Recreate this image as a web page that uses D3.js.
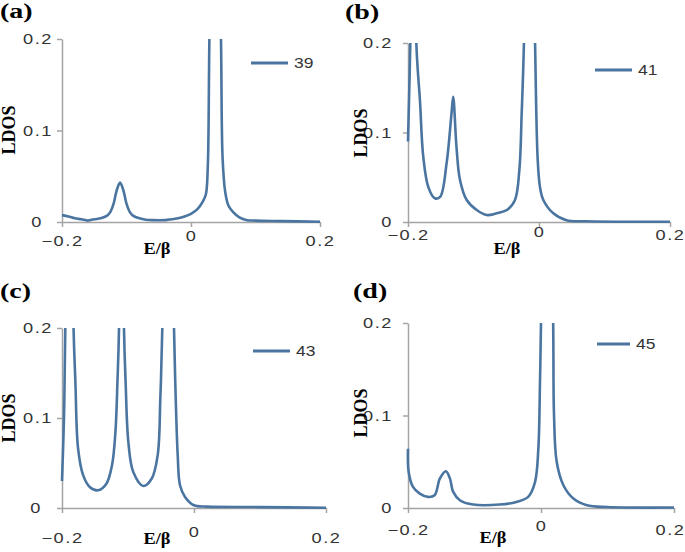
<!DOCTYPE html>
<html>
<head>
<meta charset="utf-8">
<script src="https://cdn.jsdelivr.net/npm/d3@7"></script>
<style>
  body { margin: 0; background: #fff; }
</style>
</head>
<body>
<div id="chart"></div>
<script>
// LDOS curves (values above 0.2 are clipped at the axis top)
const energyA = [-0.2, -0.19, -0.18, -0.17, -0.16, -0.15, -0.14, -0.13, -0.125, -0.12, -0.115, -0.11, -0.105, -0.1, -0.095, -0.09, -0.08, -0.07, -0.06, -0.04, -0.03, -0.02, -0.01, 0, 0.01, 0.018, 0.023, 0.026, 0.0285, 0.037, 0.0465, 0.049, 0.053, 0.058, 0.065, 0.075, 0.087, 0.1, 0.14, 0.2];
const ldosA   = [0.0075, 0.006, 0.004, 0.003, 0.0015, 0.003, 0.004, 0.007, 0.011, 0.02, 0.035, 0.043, 0.035, 0.02, 0.011, 0.007, 0.004, 0.0025, 0.002, 0.002, 0.003, 0.004, 0.006, 0.009, 0.014, 0.022, 0.03, 0.06, 0.2, 0.6, 0.2, 0.07, 0.033, 0.018, 0.011, 0.005, 0.002, 0.0015, 0.001, 0.0003];

const energyB = [-0.2, -0.1965, -0.1915, -0.1873, -0.1817, -0.1767, -0.169, -0.159, -0.151, -0.141, -0.1335, -0.131, -0.126, -0.1206, -0.1104, -0.0951, -0.0798, -0.0646, -0.049, -0.0367, -0.03, -0.0264, -0.023, -0.0145, -0.006, -0.002, 0.0015, 0.0066, 0.0219, 0.042, 0.07, 0.2];
const ldosB   = [0.09, 0.2, 0.5, 0.2, 0.135, 0.073, 0.039, 0.0265, 0.028, 0.066, 0.122, 0.14, 0.084, 0.047, 0.0246, 0.0134, 0.0078, 0.0097, 0.0134, 0.0246, 0.058, 0.122, 0.2, 0.6, 0.2, 0.07, 0.039, 0.0246, 0.0097, 0.002, 0.0008, 0.0003];

const energyC = [-0.2, -0.197, -0.195, -0.189, -0.1825, -0.1797, -0.1757, -0.168, -0.158, -0.1454, -0.1327, -0.1242, -0.119, -0.116, -0.1136, -0.11, -0.1061, -0.1036, -0.0995, -0.092, -0.0768, -0.064, -0.055, -0.051, -0.048, -0.039, -0.0303, -0.0277, -0.0247, -0.0212, -0.0136, 0, 0.02, 0.1, 0.2];
const ldosC   = [0.03, 0.1, 0.2, 0.6, 0.2, 0.14, 0.0666, 0.0365, 0.0234, 0.0197, 0.027, 0.0476, 0.085, 0.14, 0.2, 0.6, 0.2, 0.14, 0.0736, 0.04, 0.0245, 0.0328, 0.0588, 0.122, 0.2, 0.6, 0.2, 0.122, 0.059, 0.0253, 0.0123, 0.003, 0.0015, 0.001, 0.0002];

const energyD = [-0.2, -0.199, -0.1925, -0.1823, -0.17, -0.16, -0.152, -0.143, -0.137, -0.132, -0.122, -0.102, -0.062, -0.037, -0.0193, -0.009, -0.004, -0.0015, 0, 0.009, 0.0183, 0.0196, 0.0236, 0.0337, 0.0487, 0.069, 0.1, 0.2];
const ldosD   = [0.064, 0.039, 0.0228, 0.0156, 0.012, 0.0138, 0.032, 0.0398, 0.032, 0.0174, 0.0084, 0.0037, 0.0037, 0.0065, 0.012, 0.028, 0.064, 0.137, 0.2, 0.6, 0.2, 0.1, 0.05, 0.0246, 0.0102, 0.003, 0.001, 0.0005];

const seriesNames = ['39', '41', '43', '45'];
const panelLetters = ['(a)', '(b)', '(c)', '(d)'];
const xTicks = [-0.2, 0, 0.2];
const yTicks = [0, 0.1, 0.2];

const lineColor = '#4a75a1';
const axisColor = '#a4a4a4';
const textColor = '#333';
const sx = 1.3; // reference text is stretched horizontally

const w = 685, h = 552;

// plot boxes and label spots for each panel
const layout = [
  { left: 62,  right: 320, bottom: 222, top: 39,  yGap: 9,  zeroGap: 19, xDy: 19, zeroDy: 14, letter: [0, 18],   ldos: [9, 130],   eb: [157, 248], legend: [251, 288, 63] },
  { left: 408, right: 670, bottom: 222, top: 43,  yGap: 15, zeroGap: 15, xDy: 13, zeroDy: 10, letter: [345, 19], ldos: [361, 133], eb: [507, 248], legend: [595, 632, 70] },
  { left: 62,  right: 326, bottom: 508, top: 328, yGap: 9,  zeroGap: 20, xDy: 30, zeroDy: 24, letter: [0, 298],  ldos: [9, 418],   eb: [157, 538], legend: [253, 290, 351] },
  { left: 408, right: 674, bottom: 508, top: 323, yGap: 15, zeroGap: 15, xDy: 22, zeroDy: 18, letter: [353, 298], ldos: [361, 413], eb: [493, 537], legend: [597, 630, 344] }
];

const curves = [
  d3.zip(energyA, ldosA),
  d3.zip(energyB, ldosB),
  d3.zip(energyC, ldosC),
  d3.zip(energyD, ldosD)
];

const svg = d3.select('#chart')
  .append('svg')
  .attr('width', w)
  .attr('height', h);

function styleTickText(sel) {
  sel.attr('fill', textColor)
    .attr('font-family', 'Liberation Sans, Arial, sans-serif')
    .attr('font-size', 14)
    .attr('letter-spacing', 1.2);
}

layout.forEach(function (p, i) {
  const x = d3.scaleLinear().domain([-0.2, 0.2]).range([p.left, p.right]);
  const y = d3.scaleLinear().domain([0, 0.2]).range([p.bottom, p.top]);
  const fmt = d => d === 0 ? '0' : d3.format('.1f')(d);

  const xAxis = d3.axisBottom(x).tickValues(xTicks).tickSize(5).tickSizeOuter(0).tickFormat(fmt);
  const yAxis = d3.axisLeft(y).tickValues(yTicks).tickSize(5).tickSizeOuter(0).tickFormat(fmt);

  const gx = svg.append('g')
    .attr('transform', 'translate(0,' + p.bottom + ')')
    .call(xAxis);
  gx.selectAll('.tick text')
    .call(styleTickText)
    .attr('x', 0)
    .attr('y', 0)
    .attr('dy', '0.35em')
    .attr('text-anchor', 'middle')
    .attr('transform', d => 'translate(' + (d > 0.1 && i === 3 ? -4 : 0) + ',' + (d === 0 ? p.zeroDy : p.xDy) + ') scale(' + sx + ',1)');

  const gy = svg.append('g')
    .attr('transform', 'translate(' + p.left + ',0)')
    .call(yAxis);
  gy.selectAll('.tick text')
    .call(styleTickText)
    .attr('x', 0)
    .attr('y', 0)
    .attr('dy', '0.35em')
    .attr('text-anchor', 'end')
    .attr('transform', d => 'translate(' + (-(d === 0 ? p.zeroGap : p.yGap)) + ',0) scale(' + sx + ',1)');

  [gx, gy].forEach(function (g) {
    g.select('.domain').attr('stroke', axisColor).attr('stroke-width', 1.5);
    g.selectAll('.tick line').attr('stroke', axisColor).attr('stroke-width', 1.5);
  });

  // clip lines at the 0.2 ceiling like the original chart
  svg.append('clipPath')
    .attr('id', 'clip' + i)
    .append('rect')
    .attr('x', p.left - 4)
    .attr('y', p.top)
    .attr('width', p.right - p.left + 8)
    .attr('height', p.bottom - p.top + 6);

  const line = d3.line()
    .x(d => x(d[0]))
    .y(d => y(d[1]))
    .curve(d3.curveCatmullRom.alpha(0.5));

  svg.append('path')
    .datum(curves[i])
    .attr('clip-path', 'url(#clip' + i + ')')
    .attr('fill', 'none')
    .attr('stroke', lineColor)
    .attr('stroke-width', 2.6)
    .attr('stroke-linejoin', 'round')
    .attr('d', line);

  // legend
  svg.append('line')
    .attr('x1', p.legend[0]).attr('x2', p.legend[1])
    .attr('y1', p.legend[2]).attr('y2', p.legend[2])
    .attr('stroke', lineColor)
    .attr('stroke-width', 3);
  svg.append('text')
    .attr('transform', 'translate(' + (p.legend[1] + 6) + ',' + p.legend[2] + ') scale(1.25,1)')
    .attr('dy', '0.35em')
    .attr('fill', textColor)
    .attr('font-family', 'Liberation Sans, Arial, sans-serif')
    .attr('font-size', 14)
    .text(seriesNames[i]);

  // panel letter
  svg.append('text')
    .attr('transform', 'translate(' + p.letter[0] + ',' + p.letter[1] + ') scale(1.4,1)')
    .attr('font-family', 'Liberation Serif, Times New Roman, serif')
    .attr('font-weight', 'bold')
    .attr('font-size', 20)
    .text(panelLetters[i]);

  // axis titles
  svg.append('text')
    .attr('transform', 'translate(' + p.ldos[0] + ',' + p.ldos[1] + ') rotate(-90)')
    .attr('text-anchor', 'middle')
    .attr('dy', '0.35em')
    .attr('font-family', 'Liberation Serif, Times New Roman, serif')
    .attr('font-weight', 'bold')
    .attr('font-size', 18)
    .text('LDOS');

  svg.append('text')
    .attr('transform', 'translate(' + p.eb[0] + ',' + p.eb[1] + ') scale(1.15,1)')
    .attr('text-anchor', 'middle')
    .attr('dy', '0.35em')
    .attr('font-family', 'Liberation Serif, Times New Roman, serif')
    .attr('font-weight', 'bold')
    .attr('font-size', 16)
    .text('E/β');
});
</script>
</body>
</html>
